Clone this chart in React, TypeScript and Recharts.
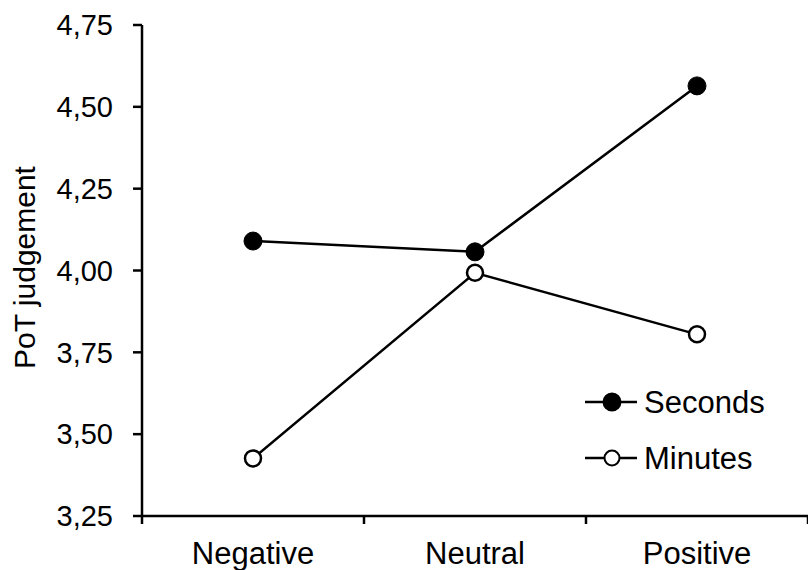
import { LineChart, Line, XAxis, YAxis, Legend } from 'recharts'

const categories = ['Negative', 'Neutral', 'Positive']
const seconds = [4.09, 4.057, 4.564]
const minutes = [3.426, 3.993, 3.805]
const seriesOrder = ['Seconds', 'Minutes']
const yTicks = [3.25, 3.5, 3.75, 4.0, 4.25, 4.5, 4.75]
// boundaries at integers, labels at the half steps
const xTicks = [0, 0.5, 1, 1.5, 2, 2.5, 3]

const data = categories.map((name, i) => ({
  name,
  x: i + 0.5,
  seconds: seconds[i],
  minutes: minutes[i],
}))

const FONT = '"Liberation Sans", Arial, sans-serif'
const TICK_SIZE = 8
const TICK_MARGIN = 18

const XTick = ({ x, y, payload }: any) => {
  const v = payload.value
  if (Number.isInteger(v)) {
    const axisY = y - TICK_SIZE - TICK_MARGIN
    return <line x1={x} x2={x} y1={axisY} y2={axisY + TICK_SIZE} stroke="#000" strokeWidth={2.5} />
  }
  return (
    <text x={x} y={y} dy="0.71em" textAnchor="middle" fontSize={31} fontFamily={FONT} fill="#000">
      {categories[Math.floor(v)]}
    </text>
  )
}

const YLabel = ({ viewBox }: any) => {
  const x = viewBox.x + 35
  const y = viewBox.y + viewBox.height / 2 - 3
  return (
    <text
      x={x}
      y={y}
      transform={`rotate(-90 ${x} ${y})`}
      textAnchor="middle"
      fontSize={30}
      fontFamily={FONT}
      fill="#000"
    >
      PoT judgement
    </text>
  )
}

const LegendContent = ({ payload }: any) => {
  const items = [...(payload || [])].sort(
    (a: any, b: any) => seriesOrder.indexOf(a.value) - seriesOrder.indexOf(b.value)
  )
  return (
    <div style={{ fontFamily: FONT }}>
      {items.map((item: any) => {
        const filled = item.value === 'Seconds'
        return (
          <div key={item.value} style={{ display: 'flex', alignItems: 'center', height: 56 }}>
            <svg width={59} height={20} style={{ display: 'block' }}>
              <line x1={0} x2={52} y1={10} y2={10} stroke="#000" strokeWidth={2.5} />
              <circle cx={27} cy={10} r={filled ? 8.5 : 7.5} fill={filled ? '#000' : '#fff'} stroke="#000" strokeWidth={2} />
            </svg>
            <span style={{ fontSize: 31, color: '#000', lineHeight: 1 }}>{item.value}</span>
          </div>
        )
      })}
    </div>
  )
}

export default function App() {
  return (
    <div style={{ position: 'absolute', left: 0, top: 0, width: 808, height: 570, background: '#fff' }}>
      <LineChart width={808} height={570} data={data} margin={{ top: 25, right: 0, bottom: 0, left: 0 }}>
        <XAxis
          type="number"
          dataKey="x"
          domain={[0, 3]}
          ticks={xTicks}
          interval={0}
          height={54}
          tickSize={TICK_SIZE}
          tickMargin={TICK_MARGIN}
          tickLine={false}
          axisLine={{ stroke: '#000', strokeWidth: 2.5 }}
          tick={<XTick />}
        />
        <YAxis
          type="number"
          domain={[3.25, 4.75]}
          ticks={yTicks}
          interval={0}
          width={142}
          tickSize={9}
          tickMargin={20}
          tickFormatter={(v: number) => v.toFixed(2).replace('.', ',')}
          axisLine={{ stroke: '#000', strokeWidth: 2.5 }}
          tickLine={{ stroke: '#000', strokeWidth: 2.5 }}
          tick={{ fill: '#000', fontSize: 29, fontFamily: FONT }}
          label={{ content: <YLabel /> }}
        />
        <Legend
          layout="vertical"
          align="center"
          verticalAlign="middle"
          content={<LegendContent />}
          wrapperStyle={{ left: 585, top: 374, width: 200 }}
        />
        <Line
          dataKey="seconds"
          name="Seconds"
          stroke="#000"
          strokeWidth={2.5}
          dot={{ r: 9, fill: '#000', stroke: '#000', strokeWidth: 1 }}
          activeDot={false}
          isAnimationActive={false}
        />
        <Line
          dataKey="minutes"
          name="Minutes"
          stroke="#000"
          strokeWidth={2.5}
          dot={{ r: 8, fill: '#fff', stroke: '#000', strokeWidth: 2.5 }}
          activeDot={false}
          isAnimationActive={false}
        />
      </LineChart>
    </div>
  )
}
